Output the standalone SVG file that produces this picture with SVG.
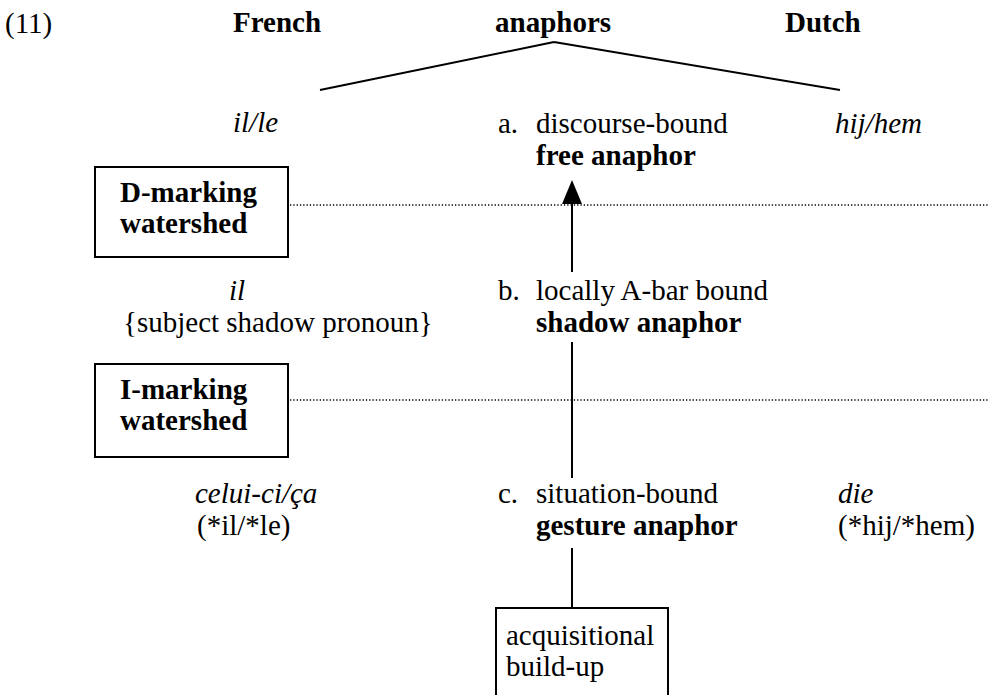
<svg xmlns="http://www.w3.org/2000/svg" width="988" height="695" viewBox="0 0 988 695">
<style>
.t{font-family:'Liberation Serif',serif;font-size:29px;fill:#000}
.b{font-weight:bold}
.i{font-style:italic}
.box{fill:#fff;stroke:#000;stroke-width:2}
.ln{stroke:#000;stroke-width:2;fill:none}
.dot{stroke:#000;stroke-width:1.3;stroke-dasharray:1.3 2;fill:none}
</style>
<rect width="988" height="695" fill="#fff"/>
<g class="t" font-family="Liberation Serif, serif">
<g id="header">
<text x="5" y="33">(11)</text>
<text x="233" y="32" class="b">French</text>
<text x="495" y="32" class="b">anaphors</text>
<text x="785" y="32" class="b">Dutch</text>
</g>
<g id="connectors">
<path class="ln" d="M554,42 L320,90 M554,42 L840,90"/>
<line class="dot" x1="290" y1="205" x2="988" y2="205"/>
<line class="dot" x1="290" y1="400" x2="988" y2="400"/>
<path d="M572,180 L562,204 L582,204 Z" fill="#000"/>
<line class="ln" x1="572" y1="203" x2="572" y2="272"/>
<line class="ln" x1="572" y1="342" x2="572" y2="478"/>
<line class="ln" x1="572" y1="548" x2="572" y2="608"/>
</g>
<g id="row-a">
<text x="233" y="132" class="i">il/le</text>
<text x="498" y="133">a.</text>
<text x="536" y="133">discourse-bound</text>
<text x="536" y="165" class="b">free anaphor</text>
<text x="835" y="133" class="i">hij/hem</text>
</g>
<g id="d-marking">
<rect class="box" x="95" y="167" width="193" height="90"/>
<text x="120" y="202" class="b">D-marking</text>
<text x="120" y="233" class="b">watershed</text>
</g>
<g id="row-b">
<text x="229" y="300" class="i">il</text>
<text x="123" y="332">{subject shadow pronoun}</text>
<text x="498" y="300">b.</text>
<text x="536" y="300">locally A-bar bound</text>
<text x="536" y="332" class="b">shadow anaphor</text>
</g>
<g id="i-marking">
<rect class="box" x="95" y="364" width="193" height="93"/>
<text x="120" y="399" class="b">I-marking</text>
<text x="120" y="430" class="b">watershed</text>
</g>
<g id="row-c">
<text x="195" y="503" class="i">celui-ci/ça</text>
<text x="197" y="535">(*il/*le)</text>
<text x="498" y="503">c.</text>
<text x="536" y="503">situation-bound</text>
<text x="536" y="535" class="b">gesture anaphor</text>
<text x="838" y="503" class="i">die</text>
<text x="838" y="535">(*hij/*hem)</text>
</g>
<g id="acquisitional">
<rect class="box" x="496" y="608" width="172" height="110"/>
<text x="506" y="645">acquisitional</text>
<text x="506" y="676">build-up</text>
</g>
</g>
</svg>
